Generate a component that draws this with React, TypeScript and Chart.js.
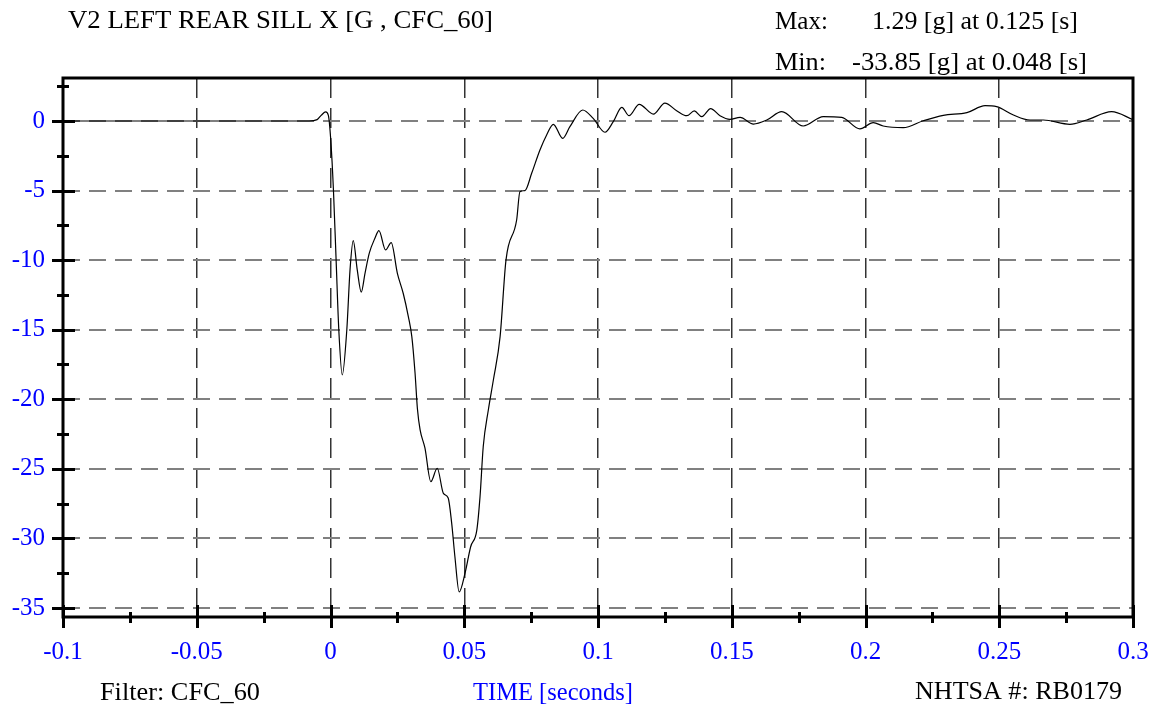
import React, { useEffect, useRef } from 'react';
import { Chart, registerables } from 'chart.js';

Chart.register(...registerables);

// ---- Data (time in seconds, acceleration in g) ----
const timeS = [
  -0.1, -0.05, -0.02, -0.008, -0.005, -0.0035, -0.0018, -0.0008, 0.0001, 0.0011,
  0.0021, 0.0031, 0.0044, 0.0061, 0.0073, 0.0085, 0.0100, 0.0115, 0.0129, 0.0145,
  0.0166, 0.0181, 0.0206, 0.0227, 0.0250, 0.0272, 0.0291, 0.0304, 0.0316, 0.0325,
  0.0335, 0.0353, 0.0375, 0.0399, 0.0422, 0.0440, 0.0453, 0.0465, 0.0481, 0.0503,
  0.0524, 0.0547, 0.0559, 0.0571, 0.0590, 0.0609, 0.0634, 0.0656, 0.0696, 0.0708,
  0.0727, 0.0752, 0.0783, 0.0808, 0.0833, 0.0868, 0.0895, 0.0943, 0.0982, 0.1026,
  0.1057, 0.1089, 0.1116, 0.1154, 0.1207, 0.1250, 0.1294, 0.1332, 0.1360, 0.1388,
  0.1421, 0.1456, 0.1493, 0.1531, 0.1581, 0.1631, 0.1687, 0.1767, 0.1842, 0.1911,
  0.1979, 0.2029, 0.2066, 0.2141, 0.2216, 0.2291, 0.2379, 0.2447, 0.2490, 0.2553,
  0.2615, 0.2665, 0.2764, 0.2827, 0.2920, 0.3000,
];
const accelG = [
  0, 0, 0, 0, 0.1, 0.4, 0.65, 0.4, -1.37, -4.96,
  -10.0, -15.0, -18.25, -15.0, -10.7, -8.6, -10.7, -12.3, -10.95, -9.5,
  -8.43, -7.88, -9.27, -8.74, -10.95, -12.4, -14.06, -15.5, -18.1, -20.7,
  -22.2, -23.5, -25.92, -24.96, -26.76, -27.1, -28.9, -31.3, -33.85, -32.5,
  -30.6, -29.4, -27.0, -23.4, -20.77, -18.6, -15.5, -10.0, -7.1, -5.08,
  -5.0, -3.76, -2.08, -1.0, -0.24, -1.25, -0.41, 0.79, 0.19, -0.81,
  -0.05, 0.98, 0.38, 1.2, 0.5, 1.29, 0.74, 0.38, 0.72, 0.31,
  0.89, 0.38, 0.12, 0.26, -0.22, 0.07, 0.67, -0.36, 0.31, 0.26,
  -0.57, -0.12, -0.36, -0.48, 0.02, 0.41, 0.6, 1.1, 1.03, 0.43,
  0.07, 0.07, -0.24, 0.07, 0.67, 0.1,
];

const xMajorTicks = [-0.1, -0.05, 0, 0.05, 0.1, 0.15, 0.2, 0.25, 0.3];
const xTickLabels = ['-0.1', '-0.05', '0', '0.05', '0.1', '0.15', '0.2', '0.25', '0.3'];
const xMinorTicks = [-0.075, -0.025, 0.025, 0.075, 0.125, 0.175, 0.225, 0.275];
const yMajorTicks = [0, -5, -10, -15, -20, -25, -30, -35];
const yTickLabels = ['0', '-5', '-10', '-15', '-20', '-25', '-30', '-35'];
const yMinorTicks = [2.5, -2.5, -7.5, -12.5, -17.5, -22.5, -27.5, -32.5];

const xRange = [-0.1, 0.3];
const yRange = [-35.65, 3.09];

const titleText = 'V2 LEFT REAR SILL X [G , CFC_60]';
const maxLabel = 'Max:';
const maxText = '1.29 [g] at 0.125 [s]';
const minLabel = 'Min:';
const minText = '-33.85 [g] at 0.048 [s]';
const filterText = 'Filter: CFC_60';
const xAxisTitle = 'TIME [seconds]';
const idText = 'NHTSA #: RB0179';

const FONT = "'Liberation Serif', 'Times New Roman', serif";
const BLUE = '#0000ff';

function drawStretched(ctx: CanvasRenderingContext2D, text: string, x: number, y: number, w: number, color: string) {
  ctx.save();
  ctx.font = `25px ${FONT}`;
  ctx.fillStyle = color;
  ctx.textAlign = 'left';
  ctx.textBaseline = 'alphabetic';
  const m = ctx.measureText(text).width;
  ctx.translate(x, y);
  ctx.scale(w / m, 1);
  ctx.fillText(text, 0, 0);
  ctx.restore();
}

const framePlugin = {
  id: 'framePlugin',
  afterDraw(chart: any) {
    const ctx: CanvasRenderingContext2D = chart.ctx;
    const { left, right, top, bottom } = chart.chartArea;
    const xs = chart.scales.x;
    const ys = chart.scales.y;
    ctx.save();
    ctx.strokeStyle = '#000';
    ctx.lineCap = 'butt';
    ctx.lineWidth = 3;
    ctx.strokeRect(left, top, right - left, bottom - top);
    ctx.beginPath();
    yMajorTicks.forEach((v) => {
      const p = Math.round(ys.getPixelForValue(v)) + 0.5;
      ctx.moveTo(left - 11, p);
      ctx.lineTo(left + 12, p);
    });
    ctx.stroke();
    ctx.beginPath();
    yMinorTicks.forEach((v) => {
      const p = Math.round(ys.getPixelForValue(v)) + 0.5;
      ctx.moveTo(left - 6, p);
      ctx.lineTo(left + 6, p);
    });
    ctx.stroke();
    ctx.beginPath();
    xMajorTicks.forEach((v) => {
      const p = Math.round(xs.getPixelForValue(v)) + 0.5;
      ctx.moveTo(p, bottom - 12);
      ctx.lineTo(p, bottom + 11);
    });
    ctx.stroke();
    ctx.beginPath();
    xMinorTicks.forEach((v) => {
      const p = Math.round(xs.getPixelForValue(v)) + 0.5;
      ctx.moveTo(p, bottom - 5);
      ctx.lineTo(p, bottom + 6);
    });
    ctx.stroke();
    ctx.restore();

    drawStretched(ctx, titleText, 68, 28, 425, '#000');
    drawStretched(ctx, maxLabel, 775, 29, 53, '#000');
    drawStretched(ctx, maxText, 872, 29, 206, '#000');
    drawStretched(ctx, minLabel, 775, 70, 51, '#000');
    drawStretched(ctx, minText, 852, 70, 235, '#000');
    drawStretched(ctx, filterText, 100, 700, 160, '#000');
    drawStretched(ctx, xAxisTitle, 473, 700, 160, BLUE);
    drawStretched(ctx, idText, 915, 699, 207, '#000');
  },
};

export default function App() {
  const canvasRef = useRef<HTMLCanvasElement | null>(null);

  useEffect(() => {
    document.body.style.margin = '0';
    const canvas = canvasRef.current;
    if (!canvas) return;
    const points = timeS.map((t, i) => ({ x: t, y: accelG[i] }));
    const chart = new Chart(canvas, {
      type: 'line',
      data: {
        datasets: [
          {
            data: points,
            borderColor: '#000',
            borderWidth: 1.2,
            pointRadius: 0,
            cubicInterpolationMode: 'monotone',
            fill: false,
          },
        ],
      },
      options: {
        animation: false,
        responsive: false,
        devicePixelRatio: 1,
        layout: { padding: { top: 78, right: 24, left: 0, bottom: 0 } },
        plugins: { legend: { display: false }, tooltip: { enabled: false }, title: { display: false } },
        scales: {
          x: {
            type: 'linear',
            min: xRange[0],
            max: xRange[1],
            afterFit: (s: any) => { s.height = 94; s.paddingLeft = 0; s.paddingRight = 0; },
            afterBuildTicks: (s: any) => { s.ticks = xMajorTicks.map((v) => ({ value: v })); },
            ticks: {
              autoSkip: false,
              maxRotation: 0,
              padding: 20,
              color: BLUE,
              font: { family: FONT, size: 25 },
              callback: (_v: any, i: number) => xTickLabels[i],
            },
            grid: { color: '#333', lineWidth: 1.5, drawTicks: false },
            border: { display: false, dash: [20, 10] },
          },
          y: {
            type: 'linear',
            min: yRange[0],
            max: yRange[1],
            afterFit: (s: any) => { s.width = 63; s.paddingTop = 0; s.paddingBottom = 0; },
            afterBuildTicks: (s: any) => { s.ticks = yMajorTicks.map((v) => ({ value: v })); },
            ticks: {
              autoSkip: false,
              padding: 18,
              color: BLUE,
              font: { family: FONT, size: 25 },
              callback: (_v: any, i: number) => yTickLabels[i],
            },
            grid: { color: '#808080', lineWidth: 2, drawTicks: false },
            border: { display: false, dash: [17, 9] },
          },
        },
      },
      plugins: [framePlugin],
    } as any);
    return () => chart.destroy();
  }, []);

  return (
    <canvas
      ref={canvasRef}
      width={1157}
      height={711}
      style={{ display: 'block', position: 'absolute', left: 0, top: 0, width: 1157, height: 711 }}
    />
  );
}
